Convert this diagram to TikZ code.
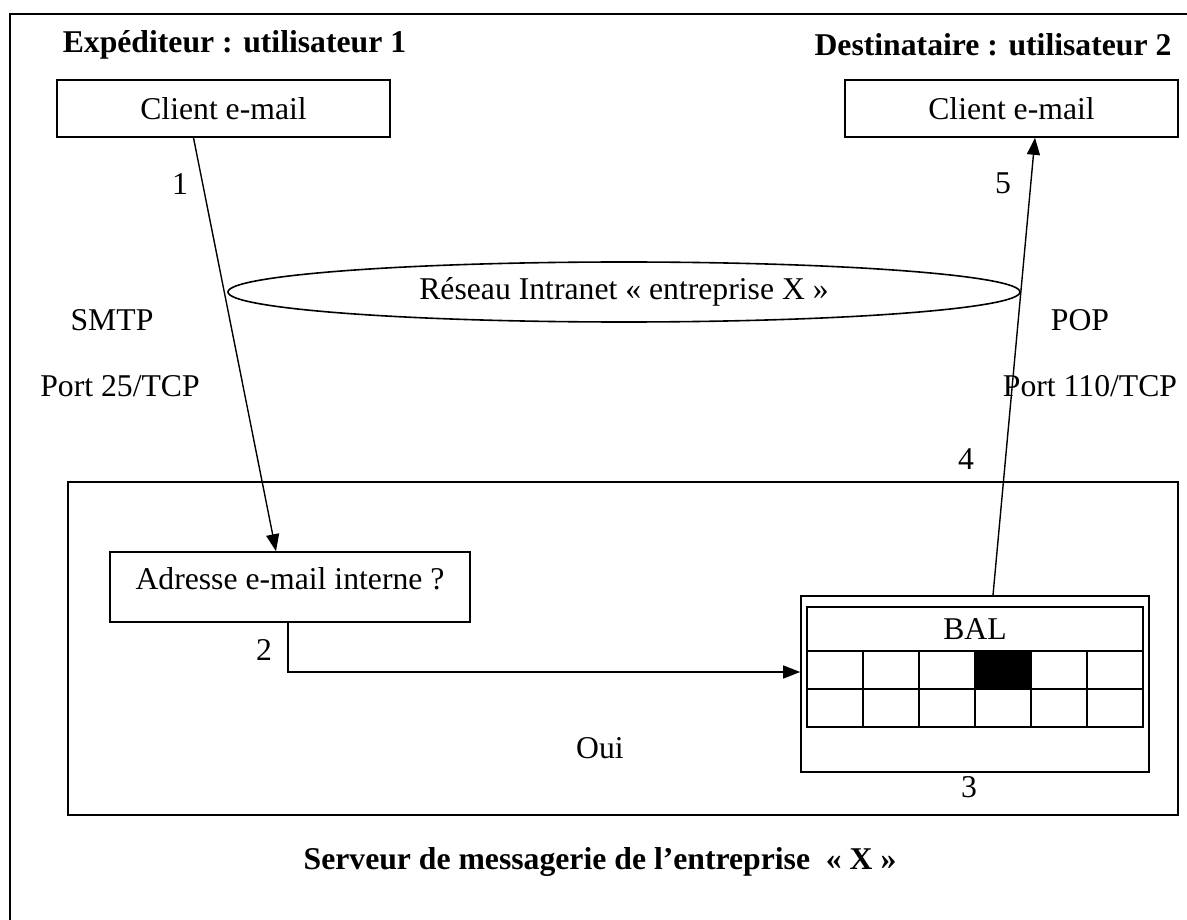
\documentclass[tikz,border=0pt]{standalone}
\usepackage{fontspec}
\setmainfont{Liberation Serif}
\usepackage{tikz}
\usetikzlibrary{arrows.meta,calc,positioning,shapes.geometric}

\begin{document}
\begin{tikzpicture}[
  x=1pt, y=-1pt,
  font=\fontsize{31.7}{38}\selectfont,
  boite/.style={draw, line width=1.6pt, align=center, inner sep=0pt},
  titre/.style={font=\fontsize{31.7}{38}\selectfont\bfseries},
  etiq/.style={inner sep=0pt},
  fleche/.style={-{Triangle[length=17pt,width=13pt]}, line width=1.4pt}
]
\useasboundingbox (0,0) rectangle (1187,920);
% cadre general
\draw[line width=1.8pt] (1190,14) -- (10,14) -- (10,925);

\node[titre] (exp) at (234.5,45) {Expéditeur : utilisateur 1};
\node[titre] (dest) at (993,45) {Destinataire : utilisateur 2};
\node[boite, minimum width=333pt, minimum height=57pt] (cli1) at (223.5,108.5) {Client e-mail};
\node[boite, minimum width=333pt, minimum height=57pt] (cli2) at (1011.5,108.5) {Client e-mail};

\node[draw, ellipse, line width=1.6pt, inner sep=0pt, minimum width=792pt, minimum height=60pt] (reseau) at (624,292) {Réseau Intranet « entreprise X »};

\node[etiq] (smtp) at (112,320) {SMTP};
\node[etiq] (p25) at (120,386) {Port 25/TCP};
\node[etiq] (pop) at (1080,320) {POP};
\node[etiq] (p110) at (1090,386) {Port 110/TCP};

% serveur
\node[boite, minimum width=1110pt, minimum height=333pt] (serveur) at (623,648.5) {};
\node[boite, minimum width=360pt, minimum height=70pt, text depth=16pt] (adr) at (290,587) {Adresse e-mail interne ?};
\node[boite, minimum width=348pt, minimum height=176pt] (bal) at (975,684) {};
\node[boite, minimum width=336pt, minimum height=44pt] (balt) at (975,629) {BAL};
\fill (975,651) rectangle (1031,689);
\foreach \i in {0,...,5}
  \foreach \j in {0,1}
    \draw[line width=1.6pt] ({807+56*\i},{651+38*\j}) rectangle +(56,38);

% etapes
\draw[fleche] ([xshift=-30pt]cli1.south) -- ([xshift=-14pt]adr.north);
\draw[fleche] ([xshift=-2pt]adr.south) |- ([yshift=12pt]bal.west);
\draw[fleche] ([xshift=18pt]bal.north) -- ([xshift=23.5pt]cli2.south);

\node[etiq] (n1) at (180,184) {1};
\node[etiq] (n2) at (264,650) {2};
\node[etiq] (n3) at (969,787) {3};
\node[etiq] (n4) at (966,459) {4};
\node[etiq] (n5) at (1003,183) {5};
\node[etiq] (oui) at (600,748) {Oui};

\node[titre] (srv) at (600,862) {Serveur de messagerie de l’entreprise \ « X »};
\end{tikzpicture}
\end{document}
